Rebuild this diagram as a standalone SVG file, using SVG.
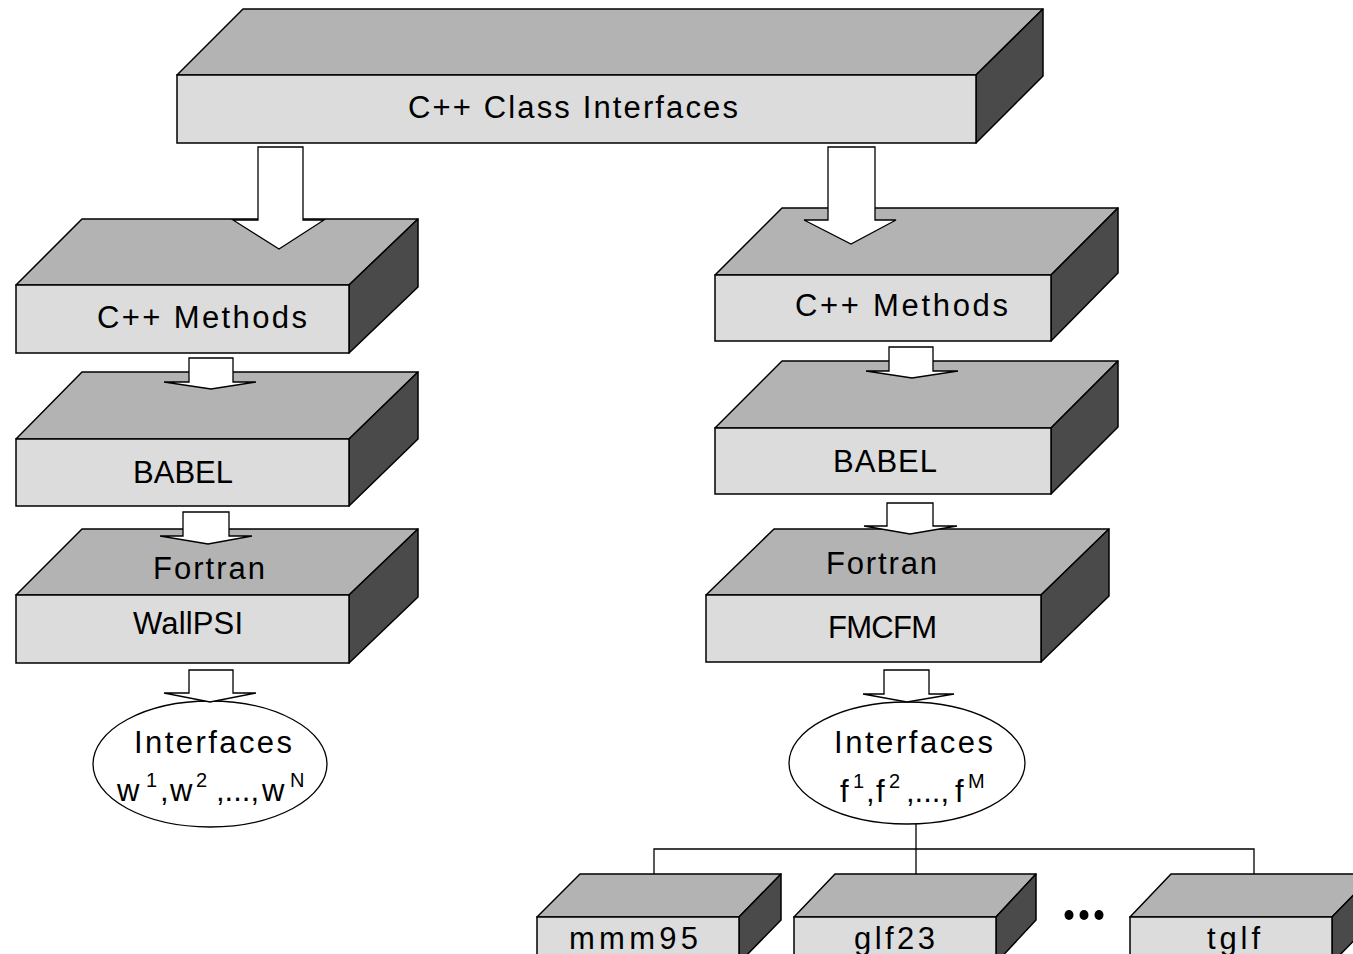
<svg xmlns="http://www.w3.org/2000/svg" width="1353" height="954" viewBox="0 0 1353 954">
<style>
.tp{fill:#b3b3b3;stroke:#000;stroke-width:1.5;stroke-linejoin:round}
.fr{fill:#dcdcdc;stroke:#000;stroke-width:1.5}
.sd{fill:#4a4a4a;stroke:#000;stroke-width:1.5;stroke-linejoin:round}
.ar{fill:#fff;stroke:#000;stroke-width:1.3;stroke-linejoin:miter}
.el{fill:#fff;stroke:#000;stroke-width:1.3}
.ln{fill:none;stroke:#000;stroke-width:1.3}
text{font-family:"Liberation Sans",Arial,sans-serif;font-size:31px;fill:#000}
.sup{font-size:20px}
</style>
<rect width="1353" height="954" fill="#fff"/>

<g id="class-interfaces">
<polygon class="tp" points="177,75 243,9 1043,9 976,75"/>
<polygon class="sd" points="976,75 1043,9 1043,76 976,143"/>
<rect class="fr" x="177" y="75" width="799" height="68"/>
<text x="408" y="118" textLength="330" lengthAdjust="spacing">C++ Class Interfaces</text>
</g>

<g id="left-methods">
<polygon class="tp" points="16,285 82,219 418,219 349,285"/>
<polygon class="sd" points="349,285 418,219 418,287 349,353"/>
<rect class="fr" x="16" y="285" width="333" height="68"/>
<text x="97" y="328" textLength="210" lengthAdjust="spacing">C++ Methods</text>
</g>

<g id="left-babel">
<polygon class="tp" points="16,439 82,372 418,372 349,439"/>
<polygon class="sd" points="349,439 418,372 418,439 349,506"/>
<rect class="fr" x="16" y="439" width="333" height="67"/>
<text x="133" y="483" textLength="100" lengthAdjust="spacing">BABEL</text>
</g>

<g id="left-fortran">
<polygon class="tp" points="16,595 82,529 418,529 349,595"/>
<polygon class="sd" points="349,595 418,529 418,597 349,663"/>
<rect class="fr" x="16" y="595" width="333" height="68"/>
<text x="153" y="579" textLength="112" lengthAdjust="spacing">Fortran</text>
<text x="133" y="634" textLength="110" lengthAdjust="spacing">WallPSI</text>
</g>

<g id="left-interfaces">
<ellipse class="el" cx="210" cy="764" rx="117" ry="63"/>
<text x="134" y="753" textLength="158" lengthAdjust="spacing">Interfaces</text>
<text y="801"><tspan x="117">w</tspan><tspan class="sup" x="146" y="787">1</tspan><tspan x="160" y="801">,</tspan><tspan x="170" y="801">w</tspan><tspan class="sup" x="196" y="787">2</tspan><tspan x="216" y="801">,...,</tspan><tspan x="262" y="801">w</tspan><tspan class="sup" x="290" y="787">N</tspan></text>
</g>

<g id="right-methods">
<polygon class="tp" points="715,275 782,208 1118,208 1051,275"/>
<polygon class="sd" points="1051,275 1118,208 1118,273 1051,341"/>
<rect class="fr" x="715" y="275" width="336" height="66"/>
<text x="795" y="316" textLength="213" lengthAdjust="spacing">C++ Methods</text>
</g>

<g id="right-babel">
<polygon class="tp" points="715,428 782,361 1118,361 1051,428"/>
<polygon class="sd" points="1051,428 1118,361 1118,427 1051,494"/>
<rect class="fr" x="715" y="428" width="336" height="66"/>
<text x="833" y="472" textLength="104" lengthAdjust="spacing">BABEL</text>
</g>

<g id="right-fortran">
<polygon class="tp" points="706,595 774,529 1109,529 1041,595"/>
<polygon class="sd" points="1041,595 1109,529 1109,596 1041,662"/>
<rect class="fr" x="706" y="595" width="335" height="67"/>
<text x="826" y="574" textLength="111" lengthAdjust="spacing">Fortran</text>
<text x="828" y="638" textLength="109" lengthAdjust="spacing">FMCFM</text>
</g>

<g id="right-interfaces">
<ellipse class="el" cx="907" cy="763" rx="118" ry="61"/>
<text x="834" y="753" textLength="159" lengthAdjust="spacing">Interfaces</text>
<text y="802"><tspan x="840">f</tspan><tspan class="sup" x="853" y="788">1</tspan><tspan x="866" y="802">,</tspan><tspan x="876" y="802">f</tspan><tspan class="sup" x="889" y="788">2</tspan><tspan x="906" y="802">,...,</tspan><tspan x="955" y="802">f</tspan><tspan class="sup" x="968" y="788">M</tspan></text>
</g>

<g id="mmm95">
<polygon class="tp" points="537,917 580,874 781,874 739,917"/>
<polygon class="sd" points="739,917 781,874 781,920 739,963"/>
<rect class="fr" x="537" y="917" width="202" height="46"/>
<text x="569" y="949" textLength="129" lengthAdjust="spacing">mmm95</text>
</g>

<g id="glf23">
<polygon class="tp" points="794,917 835,874 1036,874 996,917"/>
<polygon class="sd" points="996,917 1036,874 1036,920 996,963"/>
<rect class="fr" x="794" y="917" width="202" height="46"/>
<text x="854" y="949" textLength="81" lengthAdjust="spacing">glf23</text>
</g>

<g id="ellipsis">
<ellipse cx="1069" cy="915" rx="4.5" ry="5"/>
<ellipse cx="1084" cy="915" rx="4.5" ry="5"/>
<ellipse cx="1099" cy="915" rx="4.5" ry="5"/>
</g>

<g id="tglf">
<polygon class="tp" points="1130,917 1171,874 1374,874 1332,917"/>
<polygon class="sd" points="1332,917 1374,874 1374,920 1332,963"/>
<rect class="fr" x="1130" y="917" width="202" height="46"/>
<text x="1207" y="949" textLength="53" lengthAdjust="spacing">tglf</text>
</g>

<g id="connectors">
<polygon class="ar" points="258,147 303,147 303,220 324,220 279,249 233,220 258,220"/>
<polygon class="ar" points="828,147 875,147 875,220 896,220 851,244 804,220 828,220"/>
<polygon class="ar" points="189,358 233,358 233,382 256,382 211,389 164,382 189,382"/>
<polygon class="ar" points="183,512 229,512 229,536 252,536 208,544 160,536 183,536"/>
<polygon class="ar" points="189,670 233,670 233,693 256,693 210,702 164,693 189,693"/>
<polygon class="ar" points="889,347 933,347 933,371 958,371 912,378 866,371 889,371"/>
<polygon class="ar" points="887,503 933,503 933,526 957,526 910,534 864,526 887,526"/>
<polygon class="ar" points="884,670 929,670 929,694 954,694 907,702 863,694 884,694"/>
<polyline class="ln" points="916,824 916,874"/>
<polyline class="ln" points="654,874 654,849 1254,849 1254,874"/>
</g>
</svg>
